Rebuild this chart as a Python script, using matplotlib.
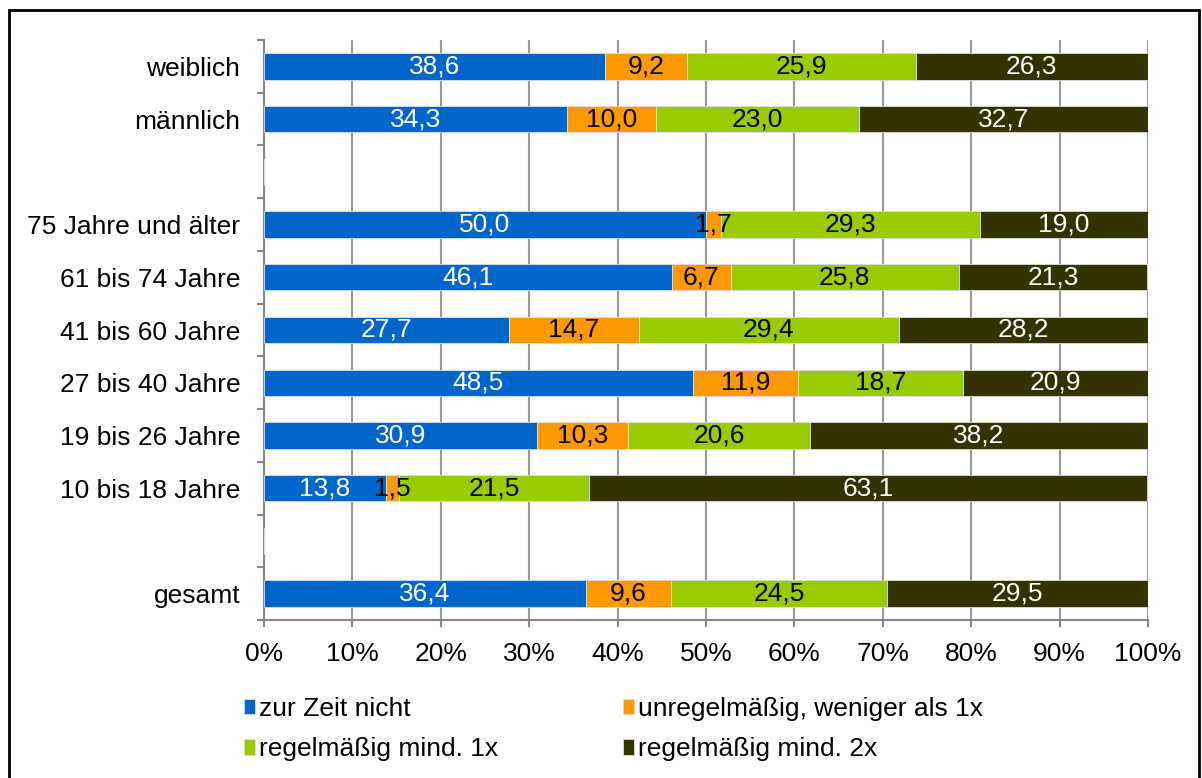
import matplotlib.pyplot as plt
import numpy as np
from matplotlib.patches import Rectangle

plt.rcParams['font.family'] = ['Liberation Sans', 'DejaVu Sans']

# Data (top to bottom); empty strings are spacer rows
labels = ['weiblich', 'männlich', '', '75 Jahre und älter', '61 bis 74 Jahre',
          '41 bis 60 Jahre', '27 bis 40 Jahre', '19 bis 26 Jahre', '10 bis 18 Jahre',
          '', 'gesamt']
nicht = [38.6, 34.3, None, 50.0, 46.1, 27.7, 48.5, 30.9, 13.8, None, 36.4]
unregel = [9.2, 10.0, None, 1.7, 6.7, 14.7, 11.9, 10.3, 1.5, None, 9.6]
mind1 = [25.9, 23.0, None, 29.3, 25.8, 29.4, 18.7, 20.6, 21.5, None, 24.5]
mind2 = [26.3, 32.7, None, 19.0, 21.3, 28.2, 20.9, 38.2, 63.1, None, 29.5]

series = [nicht, unregel, mind1, mind2]
names = ['zur Zeit nicht', 'unregelmäßig, weniger als 1x',
         'regelmäßig mind. 1x', 'regelmäßig mind. 2x']
colors = ['#0066CC', '#FF9900', '#99CC00', '#333300']
txtcol = ['white', 'black', 'black', 'white']
fs = 19

fig = plt.figure(figsize=(12.02, 7.78), dpi=100)
ax = fig.add_axes([264/1202, 1-620/778, (1148-264)/1202, 580/778])

n = len(labels)
ypos = np.arange(n)
left = np.zeros(n)
handles = []
for vals, name, c, tc in zip(series, names, colors, txtcol):
    v = np.array([x if x is not None else 0 for x in vals], dtype=float)
    h = ax.barh(ypos, v, left=left, height=0.5, color=c, label=name,
                edgecolor='#dddddd', linewidth=0.6, zorder=3)
    handles.append(h)
    for i, x in enumerate(vals):
        if x is None:
            continue
        ax.text(left[i] + x/2, ypos[i], f'{x:.1f}'.replace('.', ','),
                ha='center', va='center', color=tc, fontsize=fs, zorder=4)
    left += v

ax.set_ylim(n - 0.5, -0.5)
ax.set_xlim(0, 100)
ax.set_yticks(ypos)
ax.set_yticklabels(labels, fontsize=fs)
ax.set_yticks(np.arange(-0.5, n, 1), minor=True)
ax.tick_params(axis='y', which='major', length=0, pad=17)
ax.tick_params(axis='y', which='minor', length=5, color='#888888', width=1.5)
ax.set_xticks(np.arange(0, 101, 10))
ax.set_xticklabels([f'{t}%' for t in range(0, 101, 10)], fontsize=fs)
ax.tick_params(axis='x', length=5, color='#888888', width=1.5, pad=11)
ax.grid(axis='x', color='#999999', linewidth=1.5, zorder=0)
for s in ['top', 'right']:
    ax.spines[s].set_visible(False)
for s in ['left', 'bottom']:
    ax.spines[s].set_color('#888888')
    ax.spines[s].set_linewidth(1.5)

# legend filled row-wise like the original
order = [0, 2, 1, 3]
fig.legend([handles[i] for i in order], [names[i] for i in order],
           loc='upper left', bbox_to_anchor=(244/1202, 1-697/778), ncol=2,
           frameon=False, fontsize=fs, handlelength=0.4, handleheight=0.5,
           handletextpad=0.15, columnspacing=4.75, labelspacing=0.62,
           borderpad=0, borderaxespad=0)

fig.patches.append(Rectangle((9/1202, -0.05), 1190/1202, 1-10/778+0.05,
                             transform=fig.transFigure, fill=False,
                             edgecolor='black', linewidth=2))

fig.savefig('out.png', dpi=100)
